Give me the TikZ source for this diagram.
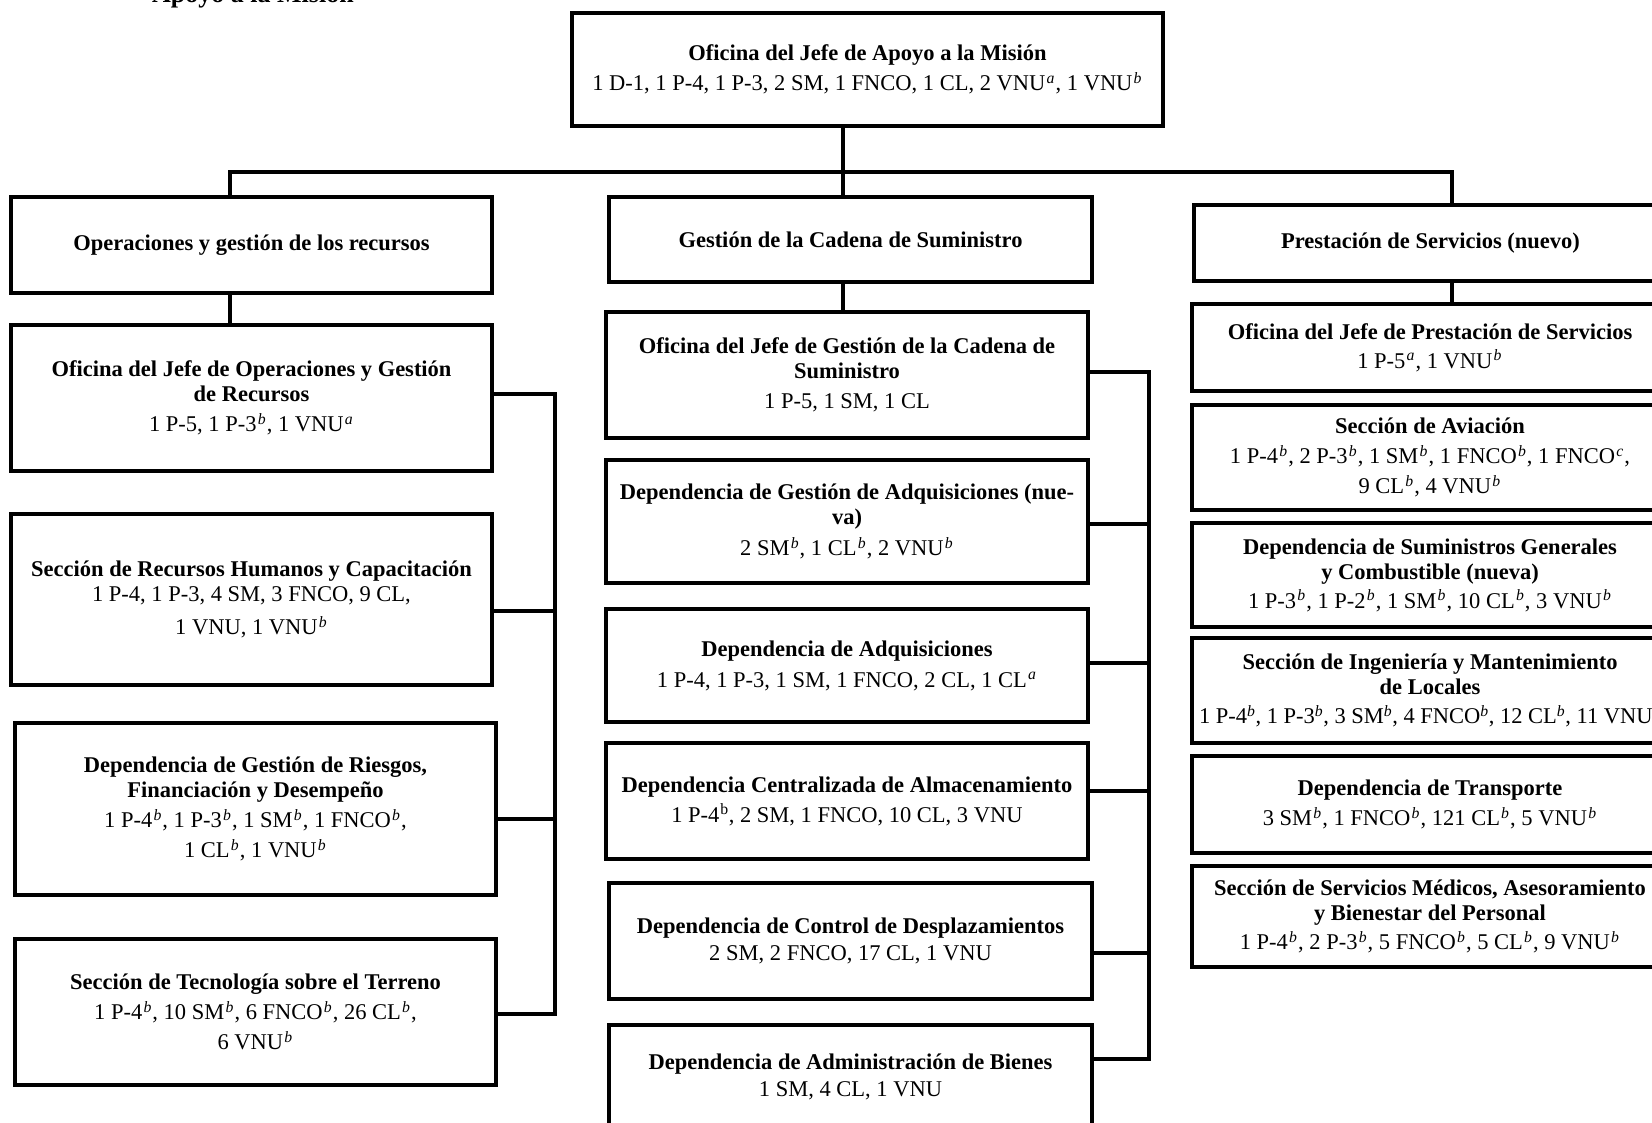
\documentclass[tikz,border=0pt]{standalone}
\usepackage{fontspec}
\setmainfont{Liberation Serif}
\newcommand{\supi}[1]{\kern1.2pt\textsuperscript{\textit{#1}}\kern0.6pt}
\newcommand{\supn}[1]{\textsuperscript{\textit{#1}}}
\tikzset{
  orgbox/.style={draw, line width=4.5pt, inner sep=0pt, align=center,
    font=\fontsize{22.5}{25}\selectfont, fill=white},
  link/.style={line width=4pt},
}
\begin{document}
\begin{tikzpicture}[x=1pt,y=-1pt,line join=miter]
\useasboundingbox (0,0) rectangle (1652,1122);
\clip (0,0) rectangle (1652,1122);
\fill[white] (0,0) rectangle (1652,1122);

\node[anchor=base west, inner sep=0pt, font=\fontsize{26}{30}\selectfont\bfseries] (ttl) at (152,2) {Apoyo a la Misión};

% top
\node[orgbox, minimum width=591pt, minimum height=113pt] (top) at (867.5,69.5)
  {\textbf{Oficina del Jefe de Apoyo a la Misión}\\[5pt]1 D-1, 1 P-4, 1 P-3, 2 SM, 1 FNCO, 1 CL, 2 VNU\supi{a}, 1 VNU\supi{b}};

% left column
\node[orgbox, minimum width=481pt, minimum height=96pt] (L0) at (251.5,245)
  {\textbf{Operaciones y gestión de los recursos}};
\node[orgbox, minimum width=481pt, minimum height=146pt] (L1) at (251.5,398)
  {\textbf{Oficina del Jefe de Operaciones y Gestión}\\\textbf{de Recursos}\\[5pt]1 P-5, 1 P-3\supi{b}, 1 VNU\supi{a}};
\node[orgbox, minimum width=481pt, minimum height=171pt] (L2) at (251.5,599.5)
  {\textbf{Sección de Recursos Humanos y Capacitación}\\1 P-4, 1 P-3, 4 SM, 3 FNCO, 9 CL,\\[8pt]1 VNU, 1 VNU\supi{b}};
\node[orgbox, minimum width=481pt, minimum height=172pt] (L3) at (255.5,809)
  {\textbf{Dependencia de Gestión de Riesgos,}\\\textbf{Financiación y Desempeño}\\[5pt]1 P-4\supi{b}, 1 P-3\supi{b}, 1 SM\supi{b}, 1 FNCO\supi{b},\\[5pt]1 CL\supi{b}, 1 VNU\supi{b}};
\node[orgbox, minimum width=481pt, minimum height=146pt] (L4) at (255.5,1012)
  {\textbf{Sección de Tecnología sobre el Terreno}\\[5pt]1 P-4\supi{b}, 10 SM\supi{b}, 6 FNCO\supi{b}, 26 CL\supi{b},\\[5pt]6 VNU\supi{b}};

% middle column
\node[orgbox, minimum width=483pt, minimum height=85pt] (M0) at (850.5,239.5)
  {\textbf{Gestión de la Cadena de Suministro}};
\node[orgbox, minimum width=482pt, minimum height=126pt] (M1) at (847,375)
  {\textbf{Oficina del Jefe de Gestión de la Cadena de}\\\textbf{Suministro}\\[5pt]1 P-5, 1 SM, 1 CL};
\node[orgbox, minimum width=482pt, minimum height=123pt] (M2) at (847,521.5)
  {\textbf{Dependencia de Gestión de Adquisiciones (nue-}\\\textbf{va)}\\[6pt]2 SM\supi{b}, 1 CL\supi{b}, 2 VNU\supi{b}};
\node[orgbox, minimum width=482pt, minimum height=113pt] (M3) at (847,665.5)
  {\textbf{Dependencia de Adquisiciones}\\[6pt]1 P-4, 1 P-3, 1 SM, 1 FNCO, 2 CL, 1 CL\supi{a}};
\node[orgbox, minimum width=482pt, minimum height=116pt] (M4) at (847,801)
  {\textbf{Dependencia Centralizada de Almacenamiento}\\[5pt]1 P-4\kern1pt\textsuperscript{b}, 2 SM, 1 FNCO, 10 CL, 3 VNU};
\node[orgbox, minimum width=483pt, minimum height=116pt] (M5) at (850.5,941)
  {\textbf{Dependencia de Control de Desplazamientos}\\[2pt]2 SM, 2 FNCO, 17 CL, 1 VNU};
\node[orgbox, minimum width=483pt, minimum height=104pt] (M6) at (850.5,1077)
  {\textbf{Dependencia de Administración de Bienes}\\[2pt]1 SM, 4 CL, 1 VNU};

% right column
\node[orgbox, minimum width=473pt, minimum height=76pt] (R0) at (1430.5,243)
  {\textbf{Prestación de Servicios (nuevo)}};
\node[orgbox, minimum width=476pt, minimum height=87pt] (R1) at (1430,347.5)
  {\textbf{Oficina del Jefe de Prestación de Servicios}\\[4pt]1 P-5\supi{a}, 1 VNU\supi{b}};
\node[orgbox, minimum width=476pt, minimum height=105pt] (R2) at (1430,457.5)
  {\textbf{Sección de Aviación}\\[5pt]1 P-4\supi{b}, 2 P-3\supi{b}, 1 SM\supi{b}, 1 FNCO\supi{b}, 1 FNCO\supi{c},\\[5pt]9 CL\supi{b}, 4 VNU\supi{b}};
\node[orgbox, minimum width=476pt, minimum height=104pt] (R3) at (1430,575)
  {\textbf{Dependencia de Suministros Generales}\\\textbf{y Combustible (nueva)}\\[4pt]1 P-3\supi{b}, 1 P-2\supi{b}, 1 SM\supi{b}, 10 CL\supi{b}, 3 VNU\supi{b}};
\node[orgbox, minimum width=476pt, minimum height=105pt] (R4) at (1430,690.5)
  {\textbf{Sección de Ingeniería y Mantenimiento}\\\textbf{de Locales}\\[4pt]1 P-4\supn{b}, 1 P-3\supn{b}, 3 SM\supn{b}, 4 FNCO\supn{b}, 12 CL\supn{b}, 11 VNU\supn{b}};
\node[orgbox, minimum width=476pt, minimum height=97pt] (R5) at (1430,804.5)
  {\textbf{Dependencia de Transporte}\\[5pt]3 SM\supi{b}, 1 FNCO\supi{b}, 121 CL\supi{b}, 5 VNU\supi{b}};
\node[orgbox, minimum width=476pt, minimum height=101pt] (R6) at (1430,916.5)
  {\textbf{Sección de Servicios Médicos, Asesoramiento}\\\textbf{y Bienestar del Personal}\\[4pt]1 P-4\supi{b}, 2 P-3\supi{b}, 5 FNCO\supi{b}, 5 CL\supi{b}, 9 VNU\supi{b}};

% bus
\coordinate (busL) at (230,172);
\coordinate (busM) at (843,172);
\coordinate (busR) at (1452,172);
\draw[link] (busM |- top.south) -- (busM);
\draw[link] (busL |- L0.north) -- (busL) -- (busR) -- (busR |- R0.north);
\draw[link] (busM) -- (busM |- M0.north);
\draw[link] (busL |- L0.south) -- (busL |- L1.north);
\draw[link] (busM |- M0.south) -- (busM |- M1.north);
\draw[link] (busR |- R0.south) -- (busR |- R1.north);

% left rail
\coordinate (lr4) at (555,1014);
\draw[link] ([yshift=4pt]L1.east) -| (lr4) -- ([yshift=-2pt]L4.east);
\draw[link] ([yshift=-11.5pt]L2.east) -| (lr4);
\draw[link] ([yshift=-10pt]L3.east) -| (lr4);

% middle rail
\coordinate (mr6) at (1149,1059);
\draw[link] ([yshift=3pt]M1.east) -| (mr6) -- ([yshift=18pt]M6.east);
\draw[link] ([yshift=-2.5pt]M2.east) -| (mr6);
\draw[link] ([yshift=2.5pt]M3.east) -| (mr6);
\draw[link] ([yshift=10pt]M4.east) -| (mr6);
\draw[link] ([yshift=-12pt]M5.east) -| (mr6);
\end{tikzpicture}
\end{document}
